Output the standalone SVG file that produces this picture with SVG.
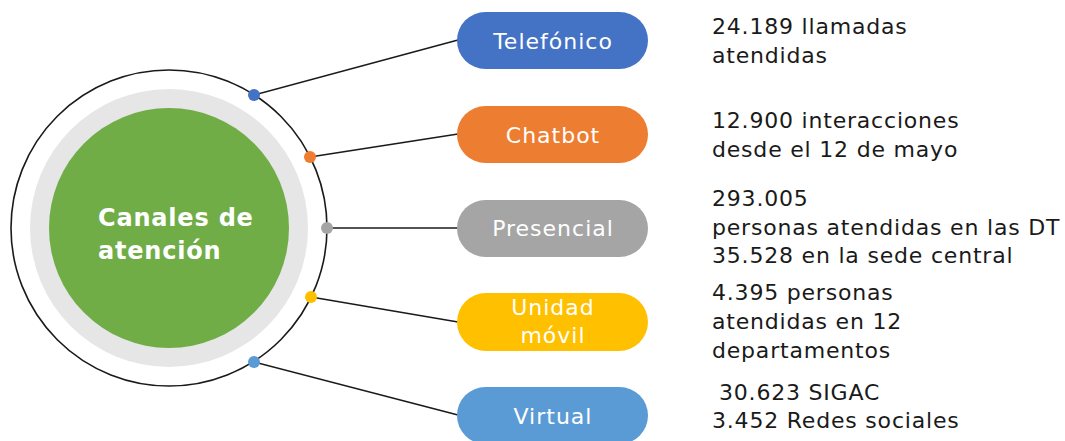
<svg xmlns="http://www.w3.org/2000/svg" width="1065" height="441" viewBox="0 0 1065 441">
<style>
.pill-t{font-family:"DejaVu Sans","Open Sans",sans-serif;font-size:22px;letter-spacing:1px;fill:#ffffff;text-anchor:middle}
.info{font-family:"DejaVu Sans","Open Sans",sans-serif;font-size:22px;letter-spacing:0.8px;fill:#1a1a1a}
.conn{stroke:#1a1a1a;stroke-width:1.6;fill:none}
</style>
<rect width="1065" height="441" fill="#ffffff"/>
<g id="hub">
<circle cx="169" cy="228" r="158" fill="#ffffff" stroke="#1a1a1a" stroke-width="1.6"/>
<circle cx="169" cy="228" r="139" fill="#e6e6e6"/>
<circle cx="169" cy="228" r="120" fill="#70ad47"/>
<text font-family="'DejaVu Sans','Open Sans',sans-serif" font-size="24" font-weight="bold" letter-spacing="0.8" fill="#ffffff"><tspan x="98" y="226">Canales de</tspan><tspan x="98" y="259">atención</tspan></text>
</g>
<g id="connectors">
<line class="conn" x1="254" y1="95" x2="458" y2="40"/>
<line class="conn" x1="310" y1="157" x2="458" y2="134"/>
<line class="conn" x1="327" y1="228" x2="458" y2="228"/>
<line class="conn" x1="311" y1="297" x2="458" y2="322"/>
<line class="conn" x1="254" y1="362" x2="458" y2="415"/>
<circle cx="254" cy="95" r="6" fill="#4472c4"/>
<circle cx="310" cy="157" r="6" fill="#ed7d31"/>
<circle cx="327" cy="228" r="6" fill="#a5a5a5"/>
<circle cx="311" cy="297" r="6" fill="#ffc000"/>
<circle cx="254" cy="362" r="6" fill="#5b9bd5"/>
</g>
<g id="telefonico">
<rect x="457" y="12" width="191" height="57" rx="28.5" fill="#4472c4"/>
<text class="pill-t" x="553" y="49">Telefónico</text>
<text class="info"><tspan x="712" y="34">24.189 llamadas</tspan><tspan x="712" y="63">atendidas</tspan></text>
</g>
<g id="chatbot">
<rect x="457" y="106" width="191" height="57" rx="28.5" fill="#ed7d31"/>
<text class="pill-t" x="553" y="143">Chatbot</text>
<text class="info"><tspan x="712" y="128">12.900 interacciones</tspan><tspan x="712" y="157">desde el 12 de mayo</tspan></text>
</g>
<g id="presencial">
<rect x="457" y="200" width="191" height="57" rx="28.5" fill="#a5a5a5"/>
<text class="pill-t" x="553" y="236">Presencial</text>
<text class="info"><tspan x="712" y="206">293.005</tspan><tspan x="712" y="235">personas atendidas en las DT</tspan><tspan x="712" y="263">35.528 en la sede central</tspan></text>
</g>
<g id="unidad-movil">
<rect x="457" y="293" width="191" height="58" rx="29" fill="#ffc000"/>
<text class="pill-t"><tspan x="553" y="315">Unidad</tspan><tspan x="553" y="343">móvil</tspan></text>
<text class="info"><tspan x="712" y="300">4.395 personas</tspan><tspan x="712" y="329">atendidas en 12</tspan><tspan x="712" y="358">departamentos</tspan></text>
</g>
<g id="virtual">
<rect x="457" y="387" width="191" height="57" rx="28.5" fill="#5b9bd5"/>
<text class="pill-t" x="553" y="424">Virtual</text>
<text class="info"><tspan x="719" y="400">30.623 SIGAC</tspan><tspan x="712" y="428">3.452 Redes sociales</tspan></text>
</g>
</svg>
